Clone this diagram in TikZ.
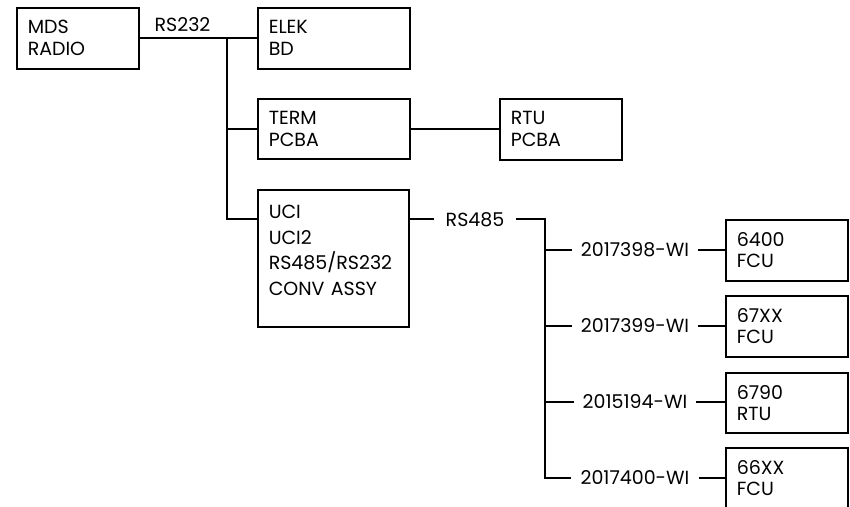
\documentclass[tikz,border=0pt]{standalone}
\usepackage{fontspec}
\setmainfont{Poppins}
\usetikzlibrary{calc}
\tikzset{
  blk/.style={draw, line width=1.5pt, rectangle, anchor=north west, align=left,
    inner xsep=11pt, inner ysep=0pt, font=\fontsize{19}{22}\selectfont},
  wlabel/.style={inner xsep=9pt, inner ysep=0pt, font=\fontsize{19}{22}\selectfont},
  wire/.style={line width=1.5pt}
}
\begin{document}
\begin{tikzpicture}[x=1pt,y=-1pt]
\useasboundingbox (0,0) rectangle (850,506);
% boxes
\node[blk, minimum width=122pt, minimum height=61pt, text width=100pt] (mds) at (16,7) {MDS\\RADIO};
\node[blk, minimum width=152pt, minimum height=61pt, text width=130pt] (elek) at (257,7) {ELEK\\BD};
\node[blk, minimum width=152pt, minimum height=60pt, text width=130pt] (term) at (257,98) {TERM\\PCBA};
\node[blk, minimum width=122pt, minimum height=61pt, text width=100pt] (rtu) at (499,98) {RTU\\PCBA};
\node[blk, minimum width=151pt, minimum height=137pt, text width=129pt, font=\fontsize{19}{25.7}\selectfont] (uci) at (257,189) {UCI\\UCI2\\RS485/RS232\\CONV ASSY\\[-9.7pt]\mbox{}};
\node[blk, minimum width=122pt, minimum height=61pt, text width=100pt, font=\fontsize{19}{21}\selectfont] (f1) at (725,219) {6400\\FCU};
\node[blk, minimum width=122pt, minimum height=61pt, text width=100pt, font=\fontsize{19}{21}\selectfont] (f2) at (725,295) {67XX\\FCU};
\node[blk, minimum width=122pt, minimum height=60pt, text width=100pt, font=\fontsize{19}{21}\selectfont] (f3) at (725,372) {6790\\RTU};
\node[blk, minimum width=122pt, minimum height=61pt, text width=100pt, font=\fontsize{19}{21}\selectfont] (f4) at (725,447) {66XX\\FCU};
% labels
\node[wlabel] (rs232) at (182.5,25) {RS232};
\node[wlabel, inner xsep=12pt] (rs485) at (475,220) {RS485};
\node[wlabel] (w1) at (635,250) {2017398-WI};
\node[wlabel] (w2) at (635,326) {2017399-WI};
\node[wlabel] (w3) at (635,402) {2015194-WI};
\node[wlabel] (w4) at (635,478) {2017400-WI};
% coordinates
\coordinate (j1) at (227,38);
\coordinate (uciin) at ($(uci.north west)+(0,30)$);
\coordinate (uciout) at ($(uci.north east)+(0,30)$);
\coordinate (bus) at (545,219);
% connectors
\draw[wire] (mds.east |- j1) -- (elek.west |- j1);
\draw[wire] (j1) |- (uciin);
\draw[wire] (j1 |- term.west) -- (term.west);
\draw[wire] (term.east) -- (rtu.west |- term.east);
\draw[wire] (uciout) -- (rs485.west |- uciout);
\draw[wire] (rs485.east |- uciout) -- (bus) |- (w4.west);
\draw[wire] (bus |- w1) -- (w1.west);
\draw[wire] (bus |- w2) -- (w2.west);
\draw[wire] (bus |- w3) -- (w3.west);
\draw[wire] (w1.east) -- (f1.west |- w1.east);
\draw[wire] (w2.east) -- (f2.west |- w2.east);
\draw[wire] (w3.east) -- (f3.west |- w3.east);
\draw[wire] (w4.east) -- (f4.west |- w4.east);
\end{tikzpicture}
\end{document}
